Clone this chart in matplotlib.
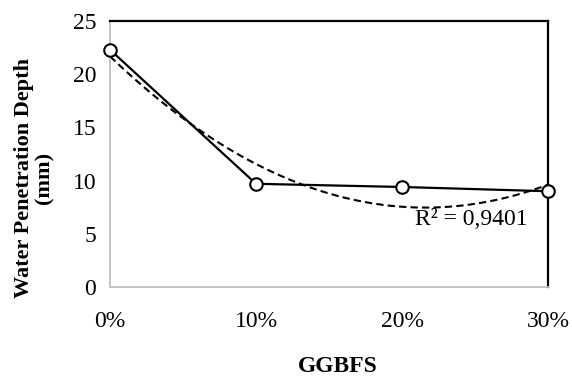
import numpy as np
import matplotlib
matplotlib.use("Agg")
import matplotlib.pyplot as plt

categories = ["0%", "10%", "20%", "30%"]
depth = [22.3, 9.7, 9.4, 9.0]
r2_label = "R² = 0,9401"

plt.rcParams['font.family'] = ['Liberation Serif', 'DejaVu Serif']

fig = plt.figure(figsize=(5.72, 3.78), dpi=100)
ax = fig.add_axes([110/572, 1-287/378, (548-110)/572, (287-21)/378])

x = np.arange(len(categories))
coef = np.polyfit(x, depth, 2)
xs = np.linspace(0, len(categories)-1, 200)
ax.plot(xs, np.polyval(coef, xs), linestyle=(0, (3.5, 2)), color='black', lw=1.5, zorder=2)
ax.plot(x, depth, color='black', lw=1.6, marker='o', markersize=9,
        markerfacecolor='white', markeredgecolor='black', markeredgewidth=1.5, zorder=3, clip_on=False)

ax.set_xlim(0, len(categories)-1)
ax.set_ylim(0, 25)
ax.set_yticks([0, 5, 10, 15, 20, 25])
ax.set_xticks(x)
ax.set_xticklabels(categories)
ax.tick_params(axis='both', length=0, labelsize=17)
ax.tick_params(axis='y', pad=10)
ax.tick_params(axis='x', pad=17)

for s in ['left', 'bottom']:
    ax.spines[s].set_color('#bfbfbf')
    ax.spines[s].set_linewidth(1.3)
for s in ['top', 'right']:
    ax.spines[s].set_color('black')
    ax.spines[s].set_linewidth(1.6)

fig.text(34/572, 1-178/378, "Water Penetration Depth\n(mm)", fontsize=16, fontweight='bold',
         rotation=90, ha='center', va='center', linespacing=1.0)
fig.text(338/572, 1-366/378, "GGBFS", fontsize=17, fontweight='bold', ha='center', va='center')

ax.text(2.09, 5.8, r2_label, fontsize=17, ha='left', va='baseline')

fig.savefig("out.png", dpi=100)
